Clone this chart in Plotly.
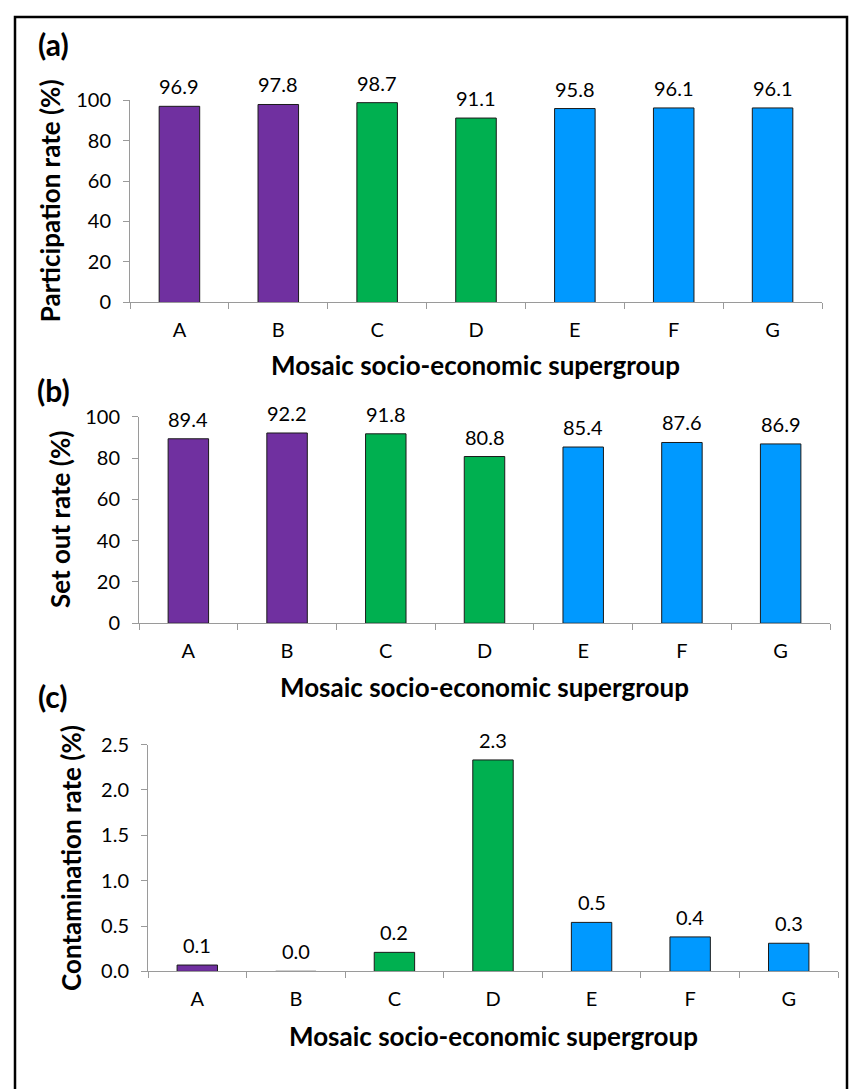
import plotly.graph_objects as go

W, H = 852, 1089

categories = ["A", "B", "C", "D", "E", "F", "G"]
participation = [96.9, 97.8, 98.7, 91.1, 95.8, 96.1, 96.1]
set_out = [89.4, 92.2, 91.8, 80.8, 85.4, 87.6, 86.9]
contamination = [0.07, 0.0, 0.21, 2.33, 0.54, 0.38, 0.31]
bar_colors = ["#7030A0", "#7030A0", "#00B050", "#00B050", "#0099FF", "#0099FF", "#0099FF"]

FONT = "Lato"
AXIS_GRAY = "#9A9A9A"
TICK_SIZE = 20
LABEL_SIZE = 20
TITLE_SIZE = 26

def px_x(x):
    return x / W

def px_y(y):
    return 1 - y / H

panels = [
    dict(vals=participation, yr=[0, 100], dtick=20, fmt="d", xp=(130, 822), yp=(89, 296),
         ytitle="Participation rate (%)", ytx=50, lab="(a)", laby=32, xty=360),
    dict(vals=set_out, yr=[0, 100], dtick=20, fmt="d", xp=(139, 830), yp=(413, 624),
         ytitle="Set out rate (%)", ytx=60, lab="(b)", laby=386, xty=689),
    dict(vals=contamination, yr=[0, 2.5], dtick=0.5, fmt=".1f", xp=(148, 838), yp=(748, 980),
         ytitle="Contamination rate (%)", ytx=71, lab="(c)", laby=698, xty=1046),
]

fig = go.Figure()
annotations = []
for i, p in enumerate(panels, start=1):
    xa = "x" if i == 1 else f"x{i}"
    ya = "y" if i == 1 else f"y{i}"
    fig.add_trace(go.Bar(
        x=categories, y=p["vals"], xaxis=xa, yaxis=ya,
        marker=dict(color=bar_colors, line=dict(color="#1a1a1a", width=1)),
        width=0.41, showlegend=False, hoverinfo="x+y",
    ))
    for c, v in zip(categories, p["vals"]):
        annotations.append(dict(
            x=c, y=v, xref=xa, yref=ya, text=f"{v:.1f}", showarrow=False,
            yanchor="bottom", yshift=6, font=dict(family=FONT, size=LABEL_SIZE, color="#000"),
        ))
    key = "" if i == 1 else str(i)
    fig.layout["xaxis" + key] = dict(
        domain=[px_x(p["xp"][0]), px_x(p["xp"][1])], anchor=ya,
        type="category", range=[-0.5, 6.5], tickson="boundaries",
        ticks="outside", ticklen=6, tickcolor=AXIS_GRAY, tickwidth=1,
        showline=True, linecolor=AXIS_GRAY, linewidth=1, showgrid=False, zeroline=False,
        tickfont=dict(family=FONT, size=TICK_SIZE, color="#000"), ticklabelstandoff=10,
        fixedrange=True,
    )
    fig.layout["yaxis" + key] = dict(
        domain=[px_y(p["yp"][1]), px_y(p["yp"][0])], anchor=xa,
        range=p["yr"], dtick=p["dtick"], tickformat=p["fmt"],
        ticks="outside", ticklen=6, tickcolor=AXIS_GRAY, tickwidth=1,
        showline=True, linecolor=AXIS_GRAY, linewidth=1, showgrid=False, zeroline=False,
        tickfont=dict(family=FONT, size=TICK_SIZE, color="#000"), ticklabelstandoff=8,
        fixedrange=True,
    )
    xc = (p["xp"][0] + p["xp"][1]) / 2
    annotations.append(dict(
        x=px_x(xc), y=px_y(p["xty"]), xref="paper", yref="paper",
        text="<b>Mosaic socio-economic supergroup</b>", showarrow=False,
        xanchor="center", yanchor="middle", font=dict(family=FONT, size=TITLE_SIZE, color="#000"),
    ))
    yc = (p["yp"][0] + p["yp"][1]) / 2
    annotations.append(dict(
        x=px_x(p["ytx"]), y=px_y(yc), xref="paper", yref="paper",
        text=f"<b>{p['ytitle']}</b>", showarrow=False, textangle=-90,
        xanchor="center", yanchor="middle", font=dict(family=FONT, size=TITLE_SIZE, color="#000"),
    ))
    annotations.append(dict(
        x=px_x(53), y=px_y(p["laby"]), xref="paper", yref="paper",
        text=f"<b>{p['lab']}</b>", showarrow=False,
        xanchor="center", yanchor="middle", font=dict(family=FONT, size=30, color="#000"),
    ))

fig.update_layout(
    width=W, height=H,
    margin=dict(l=0, r=0, t=0, b=0),
    paper_bgcolor="white", plot_bgcolor="white",
    annotations=annotations,
    shapes=[dict(type="rect", xref="paper", yref="paper",
                 x0=px_x(15), x1=px_x(847), y0=px_y(1110), y1=px_y(4),
                 line=dict(color="black", width=2.5))],
)

fig.write_html(
    "out.html",
    config={"displayModeBar": False},
    post_script="document.body.style.margin='0';document.body.style.overflow='hidden';",
)
